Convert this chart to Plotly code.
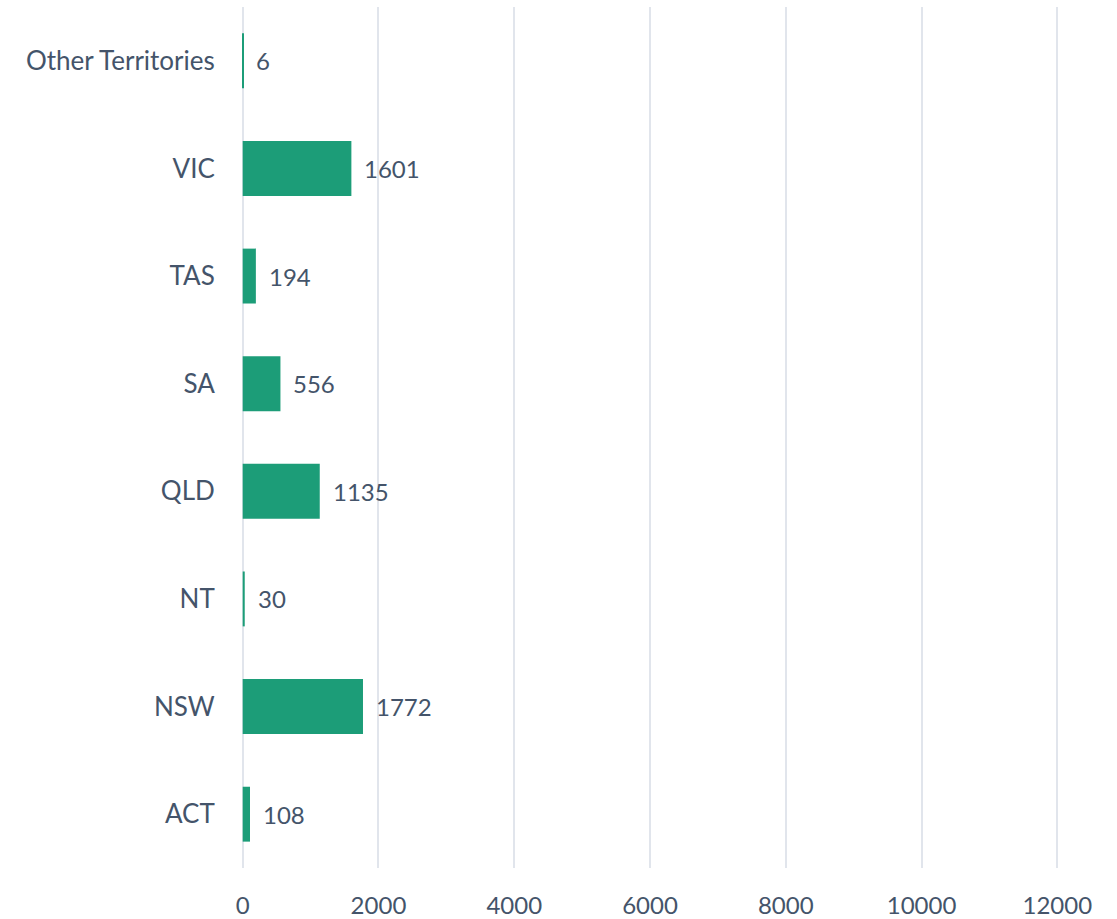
import plotly.graph_objects as go

categories = ["ACT", "NSW", "NT", "QLD", "SA", "TAS", "VIC", "Other Territories"]
values = [108, 1772, 30, 1135, 556, 194, 1601, 6]
x_ticks = [0, 2000, 4000, 6000, 8000, 10000, 12000]

font_color = "#44546A"
font_family = "Lato, 'Open Sans', sans-serif"

fig = go.Figure(go.Bar(
    x=values, y=categories, orientation="h",
    marker=dict(color="#1C9D78", line=dict(width=0)),
    width=0.51,
))

for v, c in zip(values, categories):
    fig.add_annotation(x=v, y=c, text=str(v), showarrow=False,
                       xanchor="left", xshift=11,
                       font=dict(size=24, color=font_color, family=font_family))

fig.update_layout(
    width=1117, height=919,
    margin=dict(l=241, r=58, t=7, b=51, autoexpand=False),
    plot_bgcolor="white", paper_bgcolor="white",
    showlegend=False,
    font=dict(family=font_family, size=24, color=font_color),
    xaxis=dict(range=[-25, 12025], tickvals=x_ticks, ticktext=[str(t) for t in x_ticks],
               showgrid=True, gridcolor="#E1E5EC", gridwidth=1.5, zeroline=False,
               showline=False, ticks="outside", ticklen=16, tickcolor="rgba(0,0,0,0)",
               tickfont=dict(size=24, color=font_color), automargin=False,
               fixedrange=True),
    yaxis=dict(categoryorder="array", categoryarray=categories,
               showgrid=False, zeroline=False, showline=False,
               ticks="outside", ticklen=20, tickcolor="rgba(0,0,0,0)",
               tickfont=dict(size=26, color=font_color), automargin=False),
)

fig.write_html("out.html", config={"displayModeBar": False},
               post_script="document.body.style.margin='0';document.body.style.overflow='hidden';")
